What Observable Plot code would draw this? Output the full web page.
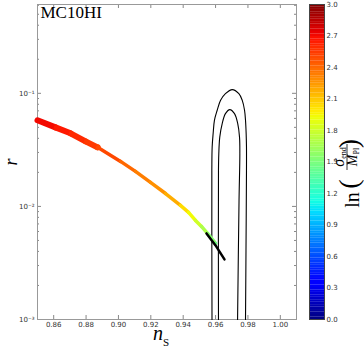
<!DOCTYPE html>
<html><head><meta charset="utf-8">
<script src="https://cdn.jsdelivr.net/npm/d3@7"></script>
<script src="https://cdn.jsdelivr.net/npm/@observablehq/plot@0.6"></script>
<style>
html,body{margin:0;padding:0;background:#fff;}
#wrap{position:relative;width:364px;height:348px;overflow:hidden;background:#fff;}
#wrap svg{position:absolute;top:0;}
</style></head><body><div id="wrap"></div>
<script>
// ---- data ----
const title = "MC10HI";
const curveNs = [0.8500, 0.8611, 0.8704, 0.8797, 0.8871, 0.9013, 0.9105, 0.9198, 0.9291, 0.9383, 0.9433, 0.9476, 0.9513, 0.9550, 0.9600];
const curveR  = [0.0577, 0.0500, 0.0443, 0.0376, 0.0333, 0.0250, 0.0204, 0.0163, 0.0130, 0.0102, 0.00885, 0.00752, 0.00665, 0.00577, 0.00471];
const curveLn = [2.70, 2.65, 2.60, 2.55, 2.50, 2.40, 2.33, 2.27, 2.18, 2.03, 1.93, 1.80, 1.68, 1.55, 1.45];
const thickCount = 5; // first points drawn as the dense red band
const bestNs = [0.9544, 0.9600, 0.9655];
const bestR  = [0.00577, 0.00452, 0.00340];
const outerNs = [0.9578, 0.9577, 0.9579, 0.9585, 0.9593, 0.9610, 0.9631, 0.9661, 0.9703, 0.9744, 0.9765, 0.9779, 0.9785, 0.9789, 0.9791, 0.9791, 0.9788, 0.9785];
const outerR  = [0.001, 0.0209, 0.0335, 0.0440, 0.0577, 0.0708, 0.0867, 0.0993, 0.1079, 0.0993, 0.0867, 0.0708, 0.0577, 0.0440, 0.0335, 0.0209, 0.00408, 0.001];
const innerNs = [0.9618, 0.9618, 0.9620, 0.9626, 0.9641, 0.9661, 0.9688, 0.9717, 0.9737, 0.9748, 0.9750, 0.9745, 0.9736];
const innerR  = [0.001, 0.0209, 0.0292, 0.0410, 0.0540, 0.0661, 0.0718, 0.0661, 0.0540, 0.0410, 0.0292, 0.0113, 0.001];
const xTicks = [0.86, 0.88, 0.90, 0.92, 0.94, 0.96, 0.98, 1.00];
const yTicks = [0.001, 0.01, 0.1];
const yTickLabels = ["10\u207B\u00B3", "10\u207B\u00B2", "10\u207B\u00B9"];
const yMinor = [0.002,0.003,0.004,0.005,0.006,0.007,0.008,0.009,0.02,0.03,0.04,0.05,0.06,0.07,0.08,0.09,0.2,0.3,0.4,0.5,0.6];
const cbTicks = [0.0, 0.3, 0.6, 0.9, 1.2, 1.5, 1.8, 2.1, 2.4, 2.7, 3.0];
const cbDomain = [0, 3];

// ---- jet colormap ----
function seg(pts, t){ for(let i=1;i<pts.length;i++){ if(t<=pts[i][0]){ const [a,va]=pts[i-1],[b,vb]=pts[i]; return va+(vb-va)*(t-a)/(b-a);} } return pts[pts.length-1][1]; }
const R=[[0,0],[0.35,0],[0.66,1],[0.89,1],[1,0.5]], G=[[0,0],[0.125,0],[0.375,1],[0.64,1],[0.91,0],[1,0]], B=[[0,0.5],[0.11,1],[0.34,1],[0.65,0],[1,0]];
function jet(t){ t=Math.max(0,Math.min(1,t)); return d3.rgb(255*seg(R,t),255*seg(G,t),255*seg(B,t)).formatHex(); }

const W=364,H=348,mL=37,mR=68,mT=4,mB=29;
const xDom=[0.85,1.01], yDom=[0.001,0.61];
const dxpx=(xDom[1]-xDom[0])/(W-mL-mR);
const lpx=Math.log10(yDom[1]/yDom[0])/(H-mT-mB);
const ymul=n=>Math.pow(10,n*lpx);
const tickCol="#888";
const idx=n=>d3.range(n);

const main = Plot.plot({
  width: W, height: H, marginLeft: mL, marginRight: mR, marginTop: mT, marginBottom: mB,
  style: {fontFamily: "DejaVu Sans", fontSize: "7px", color: "#333", background: "white"},
  x: {domain: xDom, ticks: xTicks, tickFormat: d3.format(".2f"), tickSize: 0, tickPadding: 3, label: null},
  y: {type: "log", domain: yDom, ticks: yTicks, tickFormat: d => yTickLabels[yTicks.indexOf(d)], tickSize: 0, tickPadding: 3, label: null},
  color: {type: "linear", domain: cbDomain, interpolate: jet},
  marks: [
    Plot.ruleY(yTicks, {y: d=>d, x1: xDom[0], x2: xDom[0]+4*dxpx, stroke: tickCol}),
    Plot.ruleY(yTicks, {y: d=>d, x1: xDom[1]-4*dxpx, x2: xDom[1], stroke: tickCol}),
    Plot.ruleY(yMinor, {y: d=>d, x1: xDom[0], x2: xDom[0]+2*dxpx, stroke: tickCol}),
    Plot.ruleY(yMinor, {y: d=>d, x1: xDom[1]-2*dxpx, x2: xDom[1], stroke: tickCol}),
    Plot.ruleX(xTicks, {x: d=>d, y1: yDom[0], y2: yDom[0]*ymul(4), stroke: tickCol}),
    Plot.ruleX(xTicks, {x: d=>d, y1: yDom[1]/ymul(4), y2: yDom[1], stroke: tickCol}),
    Plot.frame({stroke: "#999"}),
    Plot.line(idx(outerNs.length), {x: i=>outerNs[i], y: i=>outerR[i], curve: "catmull-rom", stroke: "#000", strokeWidth: 1.1}),
    Plot.line(idx(innerNs.length), {x: i=>innerNs[i], y: i=>innerR[i], curve: "catmull-rom", stroke: "#000", strokeWidth: 1.1}),
    Plot.line(idx(thickCount), {x: i=>curveNs[i], y: i=>curveR[i], stroke: i=>curveLn[i], z: null, strokeWidth: 6, strokeLinecap: "round"}),
    Plot.line(idx(curveNs.length), {x: i=>curveNs[i], y: i=>curveR[i], stroke: i=>curveLn[i], z: null, strokeWidth: 3.5, strokeLinecap: "round"}),
    Plot.line(idx(bestNs.length), {x: i=>bestNs[i], y: i=>bestR[i], stroke: "#000", strokeWidth: 2.5, strokeLinecap: "round"}),
    Plot.text([title], {frameAnchor: "top-left", text: d=>d, dx: 3, dy: 1, lineAnchor: "top", textAnchor: "start", fontSize: 17, fontFamily: "Liberation Serif", fill: "#000"})
  ]
});

const step = 3/128;
const bands = d3.range(0, 3 - 1e-9, step);
const cb = Plot.plot({
  width: 55, height: H, marginLeft: 0, marginRight: 40, marginTop: mT, marginBottom: mB,
  style: {fontFamily: "DejaVu Sans", fontSize: "7px", color: "#333", background: "transparent"},
  x: {domain: [0,1], axis: null},
  y: {domain: cbDomain, ticks: cbTicks, tickFormat: d3.format(".1f"), axis: "right", tickSize: 0, tickPadding: 2, label: null},
  color: {type: "linear", domain: cbDomain, interpolate: jet},
  marks: [
    Plot.rect(bands, {x1: 0, x2: 1, y1: d=>d, y2: d=>Math.min(3, d+step*1.05), fill: d=>d+step/2}),
    Plot.frame({stroke: "#444"})
  ]
});

const wrap = document.getElementById("wrap");
main.style.left = "0px";
cb.style.left = "309px";
wrap.appendChild(main);
wrap.appendChild(cb);

// axis labels
const sm = d3.select(main);
const xl = sm.append("text").attr("x", 161).attr("y", 340).attr("font-family", "Liberation Serif").attr("font-size", 20).attr("font-style", "italic").attr("fill", "#000").text("n");
xl.append("tspan").attr("font-style", "normal").attr("font-size", 11).attr("dy", 6).text("S");
sm.append("text").attr("transform", "translate(17,162) rotate(-90)").attr("text-anchor", "middle").attr("font-family", "Liberation Serif").attr("font-size", 18).attr("font-style", "italic").attr("fill", "#000").text("r");

// colorbar label: ln(σ_end / M_Pl)
const g = d3.select(cb).append("g").attr("transform", `translate(${348-309},166) rotate(-90)`).attr("font-family", "Liberation Serif").attr("fill", "#000");
g.append("text").attr("x", -34).attr("y", 11).attr("font-size", 20).text("ln");
g.append("text").attr("x", -18).attr("y", 10).attr("font-size", 28).text("(");
const num = g.append("text").attr("x", 9).attr("y", -4.5).attr("text-anchor", "middle").attr("font-size", 16).attr("font-style", "italic");
num.append("tspan").text("\u03C3");
num.append("tspan").attr("font-style", "normal").attr("font-size", 8).attr("dy", 2).text("end");
g.append("line").attr("x1", -4).attr("x2", 22).attr("y1", -1).attr("y2", -1).attr("stroke", "#000").attr("stroke-width", 0.8);
const den = g.append("text").attr("x", 9).attr("y", 9).attr("text-anchor", "middle").attr("font-size", 14).attr("font-style", "italic");
den.append("tspan").text("M");
den.append("tspan").attr("font-style", "normal").attr("font-size", 8).attr("dy", 1.5).text("Pl");
g.append("text").attr("x", 22.5).attr("y", 10).attr("font-size", 28).text(")");
</script>
</body></html>
